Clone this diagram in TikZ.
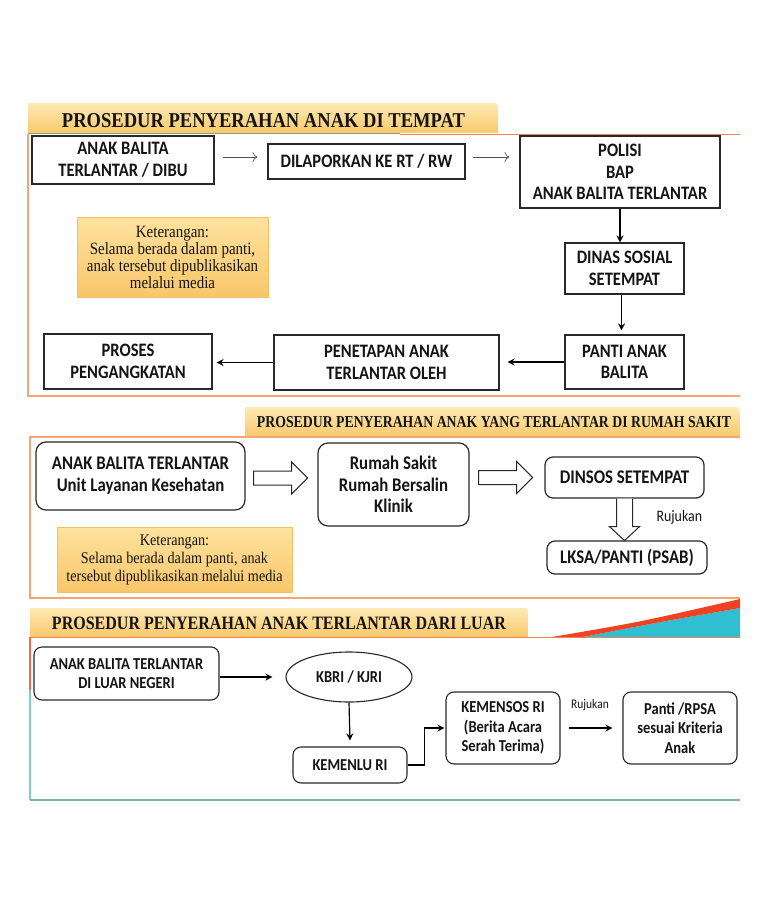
\documentclass[tikz,border=0pt]{standalone}
\usepackage{fontspec}
\usepackage{graphicx}
\setmainfont{Liberation Serif}
\newfontfamily\calfont{Carlito}[FakeStretch=0.87]
\newfontfamily\ketfont{Liberation Serif}[FakeStretch=0.87]
\usetikzlibrary{arrows.meta,shapes.geometric,calc}
\definecolor{tabtop}{RGB}{254,234,180}
\definecolor{tabbot}{RGB}{249,200,108}
\definecolor{kettop}{RGB}{253,226,158}
\definecolor{ketbot}{RGB}{248,198,106}
\definecolor{ketline}{RGB}{246,190,95}
\definecolor{frameor}{RGB}{243,165,115}
\definecolor{lineor}{RGB}{238,135,75}
\definecolor{redst}{RGB}{240,65,35}
\definecolor{tealst}{RGB}{48,190,210}
\definecolor{tealln}{RGB}{120,205,215}
\definecolor{greenln}{RGB}{125,170,120}
\definecolor{boxln}{RGB}{40,40,40}
\definecolor{txt}{RGB}{20,20,20}
\newcommand\hdrtab[4]{%
  \path[top color=tabtop,bottom color=tabbot] (#1,#4) -- (#1,#3) -- (#2-8,#3) .. controls (#2,#3) .. (#2,#3+8) -- (#2,#4) -- cycle;}
\begin{document}
\begin{tikzpicture}[x=1pt,y=-1pt,
  every node/.style={text=txt},
  sqbox/.style={draw=boxln,line width=1.1pt,align=center,inner sep=0pt,
    font=\calfont\bfseries\fontsize{19}{21.5}\selectfont},
  rbox/.style={draw=boxln,line width=1.2pt,rounded corners=10pt,align=center,inner sep=0pt,
    font=\calfont\bfseries\fontsize{19.3}{21.5}\selectfont},
  sbox/.style={draw=boxln,line width=1.1pt,rounded corners=8pt,align=center,inner sep=0pt,
    font=\calfont\bfseries\fontsize{16.7}{19.5}\selectfont},
  ketbox/.style={draw=ketline,line width=0.6pt,top color=kettop,bottom color=ketbot,
    align=center,inner sep=0pt},
  thinarr/.style={draw=boxln!80,line width=0.7pt,-{To[length=5pt,width=10pt]}},
  fatarr/.style={draw=black,line width=1.4pt,-{Stealth[length=7pt,width=7pt]}},
  blockarr/.style={draw=boxln,line width=1pt,fill=white,line join=miter},
  frame1/.style={draw=frameor,line width=1.1pt},
]
\useasboundingbox (0,0) rectangle (768,905);
\fill[white] (0,0) rectangle (768,905);

%% ---------------- Section 1 ----------------
\hdrtab{28}{498}{103}{133}
\draw[greenln,line width=1pt] (28,133.5) -- (400,133.5);
\draw[lineor,line width=1pt] (400,134) -- (740,134);
\draw[frame1] (28,134) -- (28,396) -- (740,396);
\node (h1) at (263.5,120.5) {\resizebox{403pt}{14pt}{\bfseries PROSEDUR PENYERAHAN ANAK DI TEMPAT}};

\node[sqbox,minimum width=182pt,minimum height=48pt] (a1) at (123,160) {ANAK BALITA\\TERLANTAR / DIBU};
\node[sqbox,minimum width=197pt,minimum height=35pt] (a2) at (366.5,161.5) {DILAPORKAN KE RT / RW};
\node[sqbox,minimum width=200pt,minimum height=72pt] (a3) at (620,172) {POLISI\\BAP\\ANAK BALITA TERLANTAR};
\node[sqbox,minimum width=119pt,minimum height=51pt] (a4) at (624.5,268.5) {DINAS SOSIAL\\SETEMPAT};
\node[sqbox,minimum width=119pt,minimum height=54pt] (a5) at (624.5,362) {PANTI ANAK\\BALITA};
\node[sqbox,minimum width=225pt,minimum height=55pt] (a6) at (386.5,362.5) {PENETAPAN ANAK\\TERLANTAR OLEH};
\node[sqbox,minimum width=168pt,minimum height=55pt] (a7) at (128,361.5) {PROSES\\PENGANGKATAN};
\node[ketbox,font=\ketfont\fontsize{17.2}{17}\selectfont,minimum width=191pt,minimum height=80pt] (k1) at (172.5,257) {Keterangan:\\Selama berada dalam panti,\\anak tersebut dipublikasikan\\melalui media};

\draw[thinarr] ([xshift=8pt,yshift=3pt]a1.east) -- ([xshift=-10pt,yshift=3pt]a1.east -| a2.west);
\draw[thinarr] ([xshift=7pt,yshift=4.5pt]a2.east) -- ([xshift=-10pt,yshift=4.5pt]a2.east -| a3.west);
\draw[fatarr] (a3.south) -- (a3.south |- a4.north);
\draw[fatarr] ([xshift=-3pt]a4.south) -- ([xshift=-3pt,yshift=4pt]a4.south |- a5.north);
\draw[fatarr] (a5.west) -- ([xshift=8pt]a5.west -| a6.east);
\draw[fatarr] (a6.west) -- ([xshift=4pt]a6.west -| a7.east);

%% ---------------- Section 2 ----------------
\hdrtab{245}{740}{407}{437}
\draw[frame1] (740,437) -- (30,437) -- (30,598) -- (740,598);
\node (h2) at (494,422) {\resizebox{474pt}{11pt}{\bfseries PROSEDUR PENYERAHAN ANAK YANG TERLANTAR DI RUMAH SAKIT}};

\node[rbox,minimum width=209pt,minimum height=68pt] (b1) at (140.5,476) {ANAK BALITA TERLANTAR\\Unit Layanan Kesehatan};
\node[rbox,minimum width=151pt,minimum height=83pt] (b2) at (393.5,484.5) {Rumah Sakit\\Rumah Bersalin\\Klinik};
\node[rbox,rounded corners=8pt,minimum width=159pt,minimum height=41pt] (b3) at (624.5,477.5) {DINSOS SETEMPAT};
\node[rbox,rounded corners=8pt,minimum width=160pt,minimum height=33pt] (b4) at (627,557.5) {LKSA/PANTI (PSAB)};
\node[ketbox,font=\ketfont\fontsize{16.3}{18}\selectfont,minimum width=235pt,minimum height=65pt] (k2) at (174.5,559.5) {Keterangan:\\Selama berada dalam panti, anak\\tersebut dipublikasikan melalui media};
\node[font=\calfont\fontsize{16}{16}\selectfont,anchor=west] (r1) at (653,517) {Rujukan};

\draw[blockarr] ($(b1.east)+(8,-5)$) -- ++(38,0) -- ++(0,-9) -- ++(16,16) -- ++(-16,16) -- ++(0,-9) -- ++(-38,0) -- cycle;
\draw[blockarr] ($(b2.east)+(9,-14)$) -- ++(38,0) -- ++(0,-9) -- ++(16,16) -- ++(-16,16) -- ++(0,-9) -- ++(-38,0) -- cycle;
\draw[blockarr] ($(b3.south)+(-8,0)$) -- ++(0,28) -- ++(-7,0) -- ++(15,14) -- ++(15,-14) -- ++(-7,0) -- ++(0,-28);

%% ---------------- Section 3 ----------------
\hdrtab{30}{528}{608}{637}
\fill[tealst] (583,637) .. controls (660,622) .. (740,608) -- (740,637) -- cycle;
\fill[redst] (552,637) .. controls (640,622) .. (740,599) -- (740,608) .. controls (660,622) .. (583,637) -- cycle;
\draw[lineor,line width=1pt] (30,637.5) -- (740,637.5);
\draw[redst!80,line width=1.6pt] (30,637) -- (30,690);
\draw[tealln,line width=1.6pt] (30,690) -- (30,800);
\draw[greenln!70!tealln,line width=1.8pt] (30,800) -- (740,800);
\node (h3) at (279,623.5) {\resizebox{454pt}{12.5pt}{\bfseries PROSEDUR PENYERAHAN ANAK TERLANTAR DARI LUAR}};

\node[sbox,minimum width=185pt,minimum height=53pt] (c1) at (126.5,673.5) {ANAK BALITA TERLANTAR\\DI LUAR NEGERI};
\node[sbox,ellipse,minimum width=126pt,minimum height=50pt] (c2) at (349,677) {KBRI / KJRI};
\node[sbox,minimum width=114pt,minimum height=36pt] (c3) at (350,765) {KEMENLU RI};
\node[sbox,minimum width=114pt,minimum height=72pt] (c4) at (503,728) {KEMENSOS RI\\(Berita Acara\\Serah Terima)};
\node[sbox,minimum width=114pt,minimum height=72pt] (c5) at (680,728) {Panti /RPSA\\sesuai Kriteria\\Anak};
\node[font=\calfont\fontsize{13.2}{13}\selectfont] (r2) at (590,705) {Rujukan};

\draw[fatarr,line width=1.2pt] (c1.east |- c2.west) -- ([xshift=-13pt]c2.west);
\draw[fatarr,line width=1.2pt] (c2.south) -- ([yshift=6pt]c3.north);
\draw[fatarr,line width=1.4pt] (c3.east) -- ++(17,0) |- ([xshift=-1pt]c4.west);
\draw[fatarr,line width=1.4pt] ([xshift=8pt]c4.east) -- ([xshift=-10pt]c5.west);
\end{tikzpicture}
\end{document}
